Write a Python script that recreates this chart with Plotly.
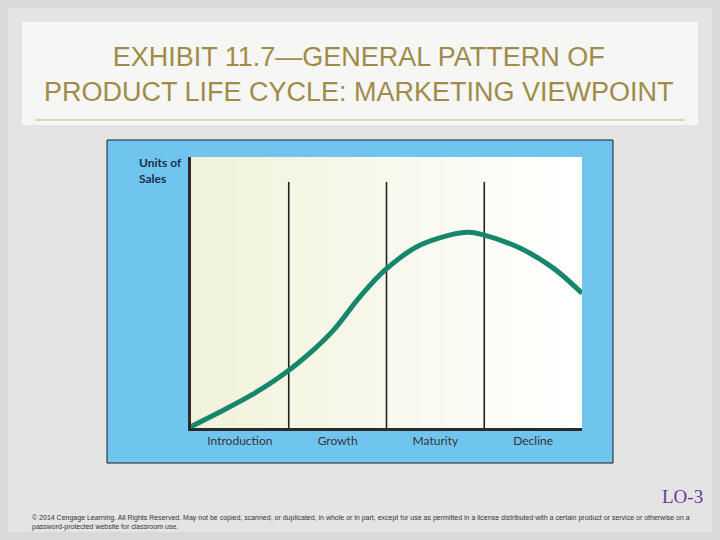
import plotly.graph_objects as go

# ---- data ----
stage_labels = ["Introduction", "Growth", "Maturity", "Decline"]
stage_centers = [0.5, 1.5, 2.5, 3.5]
stage_bounds = [1, 2, 3]
boundary_height = 90.8

curve_x = [0.0, 0.28, 0.62, 0.96, 1.27, 1.46, 1.73, 1.995, 2.34, 2.82, 3.0, 3.37, 3.71, 4.0]
curve_y = [0.5, 5.6, 12.2, 20.2, 29.4, 36.2, 48.5, 58.6, 67.4, 72.2, 71.2, 66.3, 58.9, 49.7]

title_lines = ["EXHIBIT 11.7\u2014GENERAL PATTERN OF", "PRODUCT LIFE CYCLE: MARKETING VIEWPOINT"]
y_title = "Units of<br>Sales"
footer_tag = "LO-3"
copyright_lines = [
    "\u00a9 2014 Cengage Learning. All Rights Reserved. May not be copied, scanned, or duplicated, in whole or in part, except for use as permitted in a license distributed with a certain product or service or otherwise on a",
    "password-protected website for classroom use.",
]

W, H = 720, 540

def px(x):
    return x / W

def py(y):
    return 1 - y / H

fig = go.Figure()
fig.add_trace(go.Scatter(
    x=curve_x, y=curve_y, mode="lines",
    line=dict(color="#16876c", width=5, shape="spline", smoothing=1.0),
    hoverinfo="skip", showlegend=False,
))

shapes = []
# slide inner area
shapes.append(dict(type="rect", xref="paper", yref="paper", x0=px(8), x1=px(712), y0=py(532), y1=py(8),
                   fillcolor="#e4e4e4", line=dict(width=0), layer="below"))
# title box
shapes.append(dict(type="rect", xref="paper", yref="paper", x0=px(22), x1=px(698), y0=py(125), y1=py(22),
                   fillcolor="#f6f6f5", line=dict(width=0), layer="below"))
# gold rule
shapes.append(dict(type="line", xref="paper", yref="paper", x0=px(35), x1=px(685), y0=py(120), y1=py(120),
                   line=dict(color="#c7b877", width=1), layer="below"))
# blue panel
shapes.append(dict(type="rect", xref="paper", yref="paper", x0=px(107), x1=px(613), y0=py(463), y1=py(140),
                   fillcolor="#70c5ef", line=dict(color="#1d1d1d", width=1), layer="below"))
# gradient background (overlapping strips, each running to the right edge)
n = 60
c0 = (241, 242, 218)
c1 = (255, 255, 255)
for i in range(n):
    t = i / (n - 1)
    c = tuple(int(round(a + (b - a) * t)) for a, b in zip(c0, c1))
    shapes.append(dict(type="rect", xref="x", yref="y", x0=4 * i / n, x1=4, y0=0, y1=100,
                       fillcolor="rgb(%d,%d,%d)" % c, line=dict(width=0), layer="below"))
# stage boundaries
for b in stage_bounds:
    shapes.append(dict(type="line", xref="x", yref="y", x0=b, x1=b, y0=0, y1=boundary_height,
                       line=dict(color="#222222", width=1.6), layer="below"))

annotations = []
annotations.append(dict(text="<br>".join(title_lines), xref="paper", yref="paper", x=px(359), y=py(74),
                        xanchor="center", yanchor="middle", showarrow=False, align="center",
                        font=dict(family="Liberation Sans, Arial", size=27, color="#a08c48")))
annotations.append(dict(text="<b>" + y_title + "</b>", xref="paper", yref="paper", x=px(137), y=py(153),
                        xanchor="left", yanchor="top", showarrow=False, align="left",
                        font=dict(family="Lato, Noto Sans", size=12, color="#1b2d4a")))
annotations.append(dict(text=footer_tag, xref="paper", yref="paper", x=px(705), y=py(496),
                        xanchor="right", yanchor="middle", showarrow=False,
                        font=dict(family="Liberation Serif, DejaVu Serif", size=19, color="#6b3a96")))
annotations.append(dict(text="<br>".join(copyright_lines), xref="paper", yref="paper", x=px(30), y=py(512),
                        xanchor="left", yanchor="top", showarrow=False, align="left",
                        font=dict(family="Liberation Sans, Arial", size=7, color="#333333")))

fig.update_layout(
    width=W, height=H,
    margin=dict(l=0, r=0, t=0, b=0),
    paper_bgcolor="#d9d9d9",
    plot_bgcolor="rgba(0,0,0,0)",
    shapes=shapes,
    annotations=annotations,
    showlegend=False,
    xaxis=dict(domain=[px(191), px(582)], range=[0, 4], showgrid=False, zeroline=False,
               showline=True, linecolor="#2a2a2a", linewidth=3,
               tickmode="array", tickvals=stage_centers, ticktext=stage_labels,
               ticks="", tickfont=dict(family="Lato, Noto Sans", size=12, color="#333333"), fixedrange=True),
    yaxis=dict(domain=[py(428), py(157)], range=[0, 100], showgrid=False, zeroline=False,
               showline=True, linecolor="#2a2a2a", linewidth=3, showticklabels=False, ticks="", fixedrange=True),
)

fig.write_html("out.html", config={"displayModeBar": False},
               post_script="document.body.style.margin='0';document.body.style.overflow='hidden';")
